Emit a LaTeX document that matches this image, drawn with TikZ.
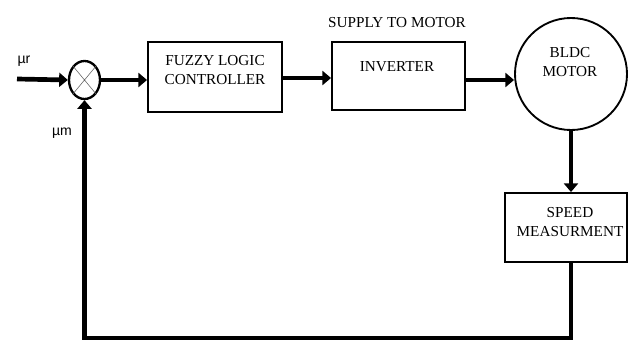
\documentclass[tikz,border=0pt]{standalone}
\usepackage{fontspec}
\setmainfont{Liberation Serif}
\newfontfamily\mufont{Liberation Sans}
\usetikzlibrary{shapes, arrows.meta, positioning, calc}
\tikzstyle{block} = [rectangle, draw, line width=1.6pt, fill=white, minimum width=4.02cm, minimum height=2.1cm]
\tikzstyle{txt} = [align=center, font=\fontsize{13}{17}\selectfont, inner sep=0pt]
\tikzstyle{sig} = [line width=4pt]
\tikzstyle{sigarrow} = [sig, -{Triangle[length=2.6mm, width=4.2mm]}]

\begin{document}
\begin{tikzpicture}[x=0.03cm, y=-0.03cm]
        \useasboundingbox (0,0) rectangle (640,342);

        % Summing junction and input
        \node[ellipse, draw, line width=2pt, minimum width=0.93cm, minimum height=1.14cm, inner sep=0pt] (sum) at (84.5,80) {};
        \draw[black!60, line width=0.5pt] (sum.north west) -- (sum.south east) (sum.north east) -- (sum.south west);
        \coordinate (ref) at (17,79);
        \node[font=\mufont\fontsize{12}{14}\selectfont] (mur) at (24,61) {µr};
        \node[font=\mufont\fontsize{12}{14}\selectfont] (mum) at (62,133) {µm};
        \draw[sigarrow] (ref) -- (sum.west);

        % Forward path
        \node[block, minimum width=4.02cm, minimum height=2.1cm] (flc) at (215,77) {};
        \node[txt] (flct) at (215,70) {FUZZY LOGIC\\CONTROLLER};
        \node[block, minimum width=3.99cm, minimum height=2.04cm] (inv) at (398.5,76) {};
        \node[txt] (invt) at (397,67) {INVERTER};
        \node[txt] (supply) at (397,23) {SUPPLY TO MOTOR};
        \node[circle, draw, line width=1.6pt, minimum size=3.36cm, inner sep=0pt] (motor) at (571,74) {};
        \node[txt] (motort) at (570,62) {BLDC\\MOTOR};

        \draw[sigarrow] (sum.east) -- (sum.east -| flc.west);
        \draw[sigarrow] (flc.east |- 0,78) -- (inv.west |- 0,78);
        \draw[sigarrow] (inv.east |- 0,80) -- (motor.west |- 0,80);

        % Feedback path
        \node[block, minimum width=3.66cm, minimum height=2.07cm] (speed) at (566,227.5) {};
        \node[txt] (speedt) at (570,222) {SPEED\\MEASURMENT};
        \draw[sigarrow] (motor.south) -- (motor.south |- speed.north);
        \draw[sigarrow] (motor.south |- speed.south) -- ++(0,75) -| (sum.south);
    \end{tikzpicture}
\end{document}
